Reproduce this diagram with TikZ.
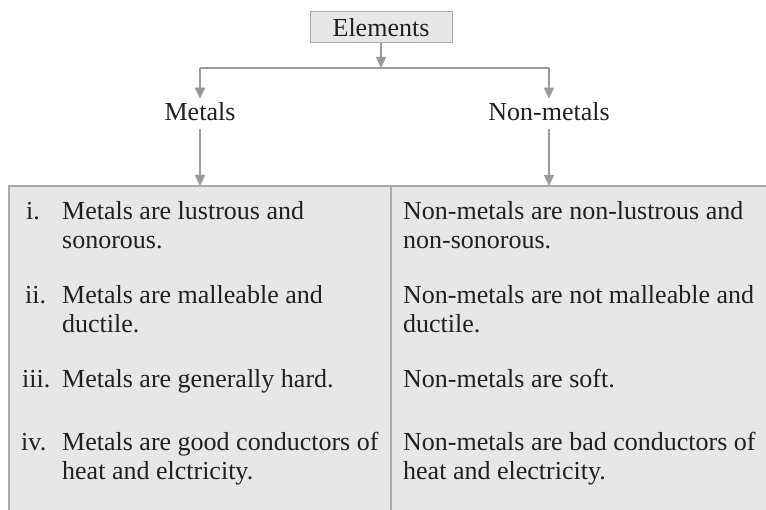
\documentclass[tikz,border=0pt]{standalone}
\usepackage{fontspec}
\setmainfont{Liberation Serif}
\usetikzlibrary{arrows.meta}
\definecolor{boxfill}{HTML}{E6E7E8}
\definecolor{edge}{HTML}{A7A9AC}
\definecolor{arrowgray}{HTML}{9A9A9A}
\definecolor{ink}{HTML}{231F20}
\begin{document}
\begin{tikzpicture}[x=1pt,y=-1pt,
  txt/.style={font=\fontsize{26}{28}\selectfont, text=ink, inner sep=0pt},
  ln/.style={txt, anchor=base west},
  arr/.style={draw=arrowgray, line width=1.4pt, -{Triangle[width=10pt,length=11pt]}},
  conn/.style={draw=arrowgray, line width=1.4pt},
  cell/.style={fill=boxfill, draw=none, inner sep=0pt, anchor=north west}]
\useasboundingbox (0,0) rectangle (766,510);
% top box
\node[txt, fill=boxfill, draw=edge, line width=1pt, minimum width=142pt, minimum height=31pt] (el) at (381,27.5) {Elements};
\node[txt] (m) at (200,112) {Metals};
\node[txt] (nm) at (549,112) {Non-metals};
% table cells
\node[cell, minimum width=382pt, minimum height=324pt] (lc) at (9,186) {};
\node[cell, minimum width=375pt, minimum height=324pt] (rc) at (391,186) {};
\draw[edge, line width=1.2pt] (lc.south west) -- (lc.north west) -- (rc.north east);
\draw[edge, line width=1.2pt] (rc.north west) -- (rc.south west);
% connectors
\coordinate (j) at (el.south |- 0,68);
\coordinate (jl) at (m.north |- j);
\coordinate (jr) at (nm.north |- j);
\draw[arr] (el.south) -- (j);
\draw[conn] (jl) -- (jr);
\draw[arr] (jl) -- ([yshift=4pt]m.north);
\draw[arr] (jr) -- ([yshift=4pt]nm.north);
\draw[arr] ([yshift=-8pt]m.south) -- (m.south |- lc.north);
\draw[arr] ([yshift=-8pt]nm.south) -- (nm.south |- rc.north);
% left column
\node[ln] (n1) at (26,220) {i.};
\node[ln] (a1) at (62,220) {Metals are lustrous and};
\node[ln] (a2) at (62,248.5) {sonorous.};
\node[ln] (n2) at (25,304) {ii.};
\node[ln] (b1) at (62,304) {Metals are malleable and};
\node[ln] (b2) at (62,332.5) {ductile.};
\node[ln] (n3) at (22,388) {iii.};
\node[ln] (c1) at (62,388) {Metals are generally hard.};
\node[ln] (n4) at (21,451) {iv.};
\node[ln] (d1) at (62,451) {Metals are good conductors of};
\node[ln] (d2) at (62,479.5) {heat and elctricity.};
% right column
\node[ln] (e1) at (403,220) {Non-metals are non-lustrous and};
\node[ln] (e2) at (403,248.5) {non-sonorous.};
\node[ln] (f1) at (403,304) {Non-metals are not malleable and};
\node[ln] (f2) at (403,332.5) {ductile.};
\node[ln] (g1) at (403,388) {Non-metals are soft.};
\node[ln] (h1) at (403,451) {Non-metals are bad conductors of};
\node[ln] (h2) at (403,479.5) {heat and electricity.};
\end{tikzpicture}
\end{document}
